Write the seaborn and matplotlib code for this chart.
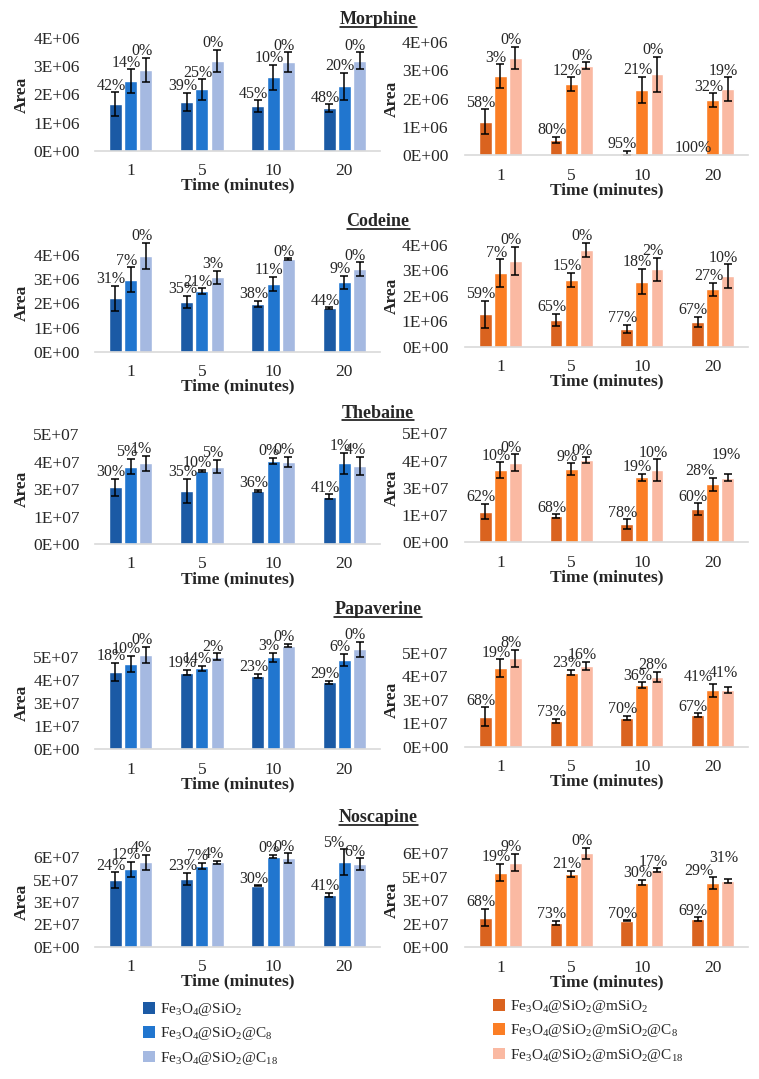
import pandas as pd
import seaborn as sns
import matplotlib.pyplot as plt
from matplotlib.patches import Patch
from matplotlib.lines import Line2D

sns.set_style('white')
plt.rcParams['font.family'] = ['Liberation Serif', 'DejaVu Serif']
plt.rcParams['mathtext.fontset'] = 'custom'
plt.rcParams['mathtext.rm'] = 'Liberation Serif'
plt.rcParams['mathtext.it'] = 'Liberation Serif:italic'
plt.rcParams['mathtext.bf'] = 'Liberation Serif:bold'

# ---------------- data ----------------
times = ['1', '5', '10', '20']
drugs = ['Morphine', 'Codeine', 'Thebaine', 'Papaverine', 'Noscapine']

si_names = [r'Fe$_3$O$_4$@SiO$_2$',
            r'Fe$_3$O$_4$@SiO$_2$@C$_8$',
            r'Fe$_3$O$_4$@SiO$_2$@C$_{18}$']
msi_names = [r'Fe$_3$O$_4$@SiO$_2$@mSiO$_2$',
             r'Fe$_3$O$_4$@SiO$_2$@mSiO$_2$@C$_8$',
             r'Fe$_3$O$_4$@SiO$_2$@mSiO$_2$@C$_{18}$']
blues = ['#1B5AA5', '#2176CF', '#A5B9E1']
oranges = ['#DA631F', '#FB7E25', '#FAB9A2']

# rows = material, columns = time (1, 5, 10, 20 min)
morphine_si = [[1.66e6, 1.74e6, 1.59e6, 1.51e6],
               [2.48e6, 2.18e6, 2.61e6, 2.30e6],
               [2.87e6, 3.19e6, 3.15e6, 3.20e6]]
morphine_si_err = [[0.42e6, 0.33e6, 0.21e6, 0.14e6],
                   [0.42e6, 0.36e6, 0.44e6, 0.48e6],
                   [0.44e6, 0.39e6, 0.35e6, 0.30e6]]
morphine_si_pct = [[42, 39, 45, 48], [14, 25, 10, 20], [0, 0, 0, 0]]

morphine_msi = [[1.18e6, 0.53e6, 0.08e6, 0.0],
                [2.80e6, 2.52e6, 2.31e6, 1.95e6],
                [3.46e6, 3.17e6, 2.86e6, 2.33e6]]
morphine_msi_err = [[0.44e6, 0.12e6, 0.07e6, 0.0],
                    [0.42e6, 0.24e6, 0.47e6, 0.24e6],
                    [0.39e6, 0.12e6, 0.63e6, 0.43e6]]
morphine_msi_pct = [[58, 80, 95, 100], [3, 12, 21, 32], [0, 0, 0, 19]]

codeine_si = [[2.21e6, 2.07e6, 1.97e6, 1.79e6],
              [2.97e6, 2.51e6, 2.80e6, 2.87e6],
              [3.96e6, 3.08e6, 3.83e6, 3.41e6]]
codeine_si_err = [[0.52e6, 0.25e6, 0.14e6, 0.04e6],
                  [0.52e6, 0.11e6, 0.30e6, 0.26e6],
                  [0.55e6, 0.27e6, 0.03e6, 0.29e6]]
codeine_si_pct = [[31, 35, 38, 44], [7, 21, 11, 9], [0, 3, 0, 0]]

codeine_msi = [[1.27e6, 1.05e6, 0.70e6, 0.98e6],
               [2.89e6, 2.62e6, 2.56e6, 2.26e6],
               [3.37e6, 3.80e6, 3.04e6, 2.78e6]]
codeine_msi_err = [[0.54e6, 0.24e6, 0.15e6, 0.20e6],
                   [0.55e6, 0.29e6, 0.50e6, 0.26e6],
                   [0.56e6, 0.29e6, 0.46e6, 0.46e6]]
codeine_msi_pct = [[59, 65, 77, 67], [7, 15, 18, 27], [0, 0, 2, 10]]

thebaine_si = [[25.8e6, 24.2e6, 24.2e6, 21.6e6],
               [35.3e6, 33.4e6, 38.0e6, 36.8e6],
               [36.8e6, 35.3e6, 37.4e6, 35.6e6]]
thebaine_si_err = [[3.8e6, 5.6e6, 0.5e6, 1.0e6],
                   [3.5e6, 0.4e6, 1.4e6, 4.8e6],
                   [3.5e6, 3.0e6, 2.4e6, 4.2e6]]
thebaine_si_pct = [[30, 35, 36, 41], [5, 10, 0, 1], [1, 5, 0, 4]]

thebaine_msi = [[14.1e6, 12.1e6, 8.3e6, 15.1e6],
                [33.2e6, 33.5e6, 29.8e6, 26.6e6],
                [36.5e6, 37.8e6, 33.2e6, 29.7e6]]
thebaine_msi_err = [[3.5e6, 0.8e6, 2.3e6, 2.8e6],
                    [3.5e6, 2.8e6, 1.5e6, 3.1e6],
                    [3.8e6, 1.2e6, 4.9e6, 1.7e6]]
thebaine_msi_pct = [[62, 68, 78, 60], [10, 9, 19, 28], [0, 0, 10, 19]]

papaverine_si = [[41.9e6, 41.4e6, 39.6e6, 36.2e6],
                 [46.0e6, 43.7e6, 49.6e6, 48.2e6],
                 [50.9e6, 50.0e6, 55.9e6, 54.1e6]]
papaverine_si_err = [[4.9e6, 1.4e6, 1.0e6, 0.9e6],
                     [4.5e6, 1.3e6, 2.5e6, 3.2e6],
                     [4.5e6, 1.8e6, 0.9e6, 4.0e6]]
papaverine_si_pct = [[18, 19, 23, 29], [10, 14, 3, 6], [0, 2, 0, 0]]

papaverine_msi = [[16.0e6, 13.7e6, 15.4e6, 16.8e6],
                  [41.7e6, 39.4e6, 32.8e6, 30.1e6],
                  [47.0e6, 43.1e6, 37.2e6, 30.1e6]]
papaverine_msi_err = [[5.0e6, 1.1e6, 1.1e6, 0.9e6],
                      [4.8e6, 1.4e6, 1.4e6, 3.5e6],
                      [4.4e6, 2.1e6, 2.7e6, 1.8e6]]
papaverine_msi_pct = [[68, 73, 70, 67], [19, 23, 36, 41], [8, 16, 28, 41]]

noscapine_si = [[44.7e6, 45.4e6, 40.9e6, 34.7e6],
                [51.9e6, 54.4e6, 60.4e6, 56.6e6],
                [56.6e6, 56.6e6, 59.3e6, 55.5e6]]
noscapine_si_err = [[5.1e6, 4.3e6, 0.4e6, 1.6e6],
                    [5.1e6, 2.0e6, 1.1e6, 8.7e6],
                    [4.9e6, 1.1e6, 3.4e6, 3.8e6]]
noscapine_si_pct = [[24, 23, 30, 41], [12, 7, 0, 5], [4, 4, 0, 6]]

noscapine_msi = [[18.9e6, 15.7e6, 17.0e6, 18.1e6],
                 [47.7e6, 46.8e6, 41.3e6, 40.9e6],
                 [54.0e6, 60.0e6, 49.4e6, 42.3e6]]
noscapine_msi_err = [[5.5e6, 1.3e6, 0.2e6, 1.1e6],
                     [5.5e6, 2.1e6, 1.7e6, 3.8e6],
                     [5.5e6, 3.6e6, 1.1e6, 1.3e6]]
noscapine_msi_pct = [[68, 73, 70, 69], [19, 21, 30, 29], [9, 0, 17, 31]]

# y axis ticks (Excel rounds the labels)
ticks_4e6 = [0, 1e6, 2e6, 3e6, 4e6]
labels_4e6 = ['0E+00', '1E+06', '2E+06', '3E+06', '4E+06']
ticks_5e7 = [0, 1.25e7, 2.5e7, 3.75e7, 5e7]
labels_5e7 = ['0E+00', '1E+07', '3E+07', '4E+07', '5E+07']
ticks_6e7 = [0, 1.5e7, 3e7, 4.5e7, 6e7]
labels_6e7 = ['0E+00', '2E+07', '3E+07', '5E+07', '6E+07']

rows = [
    (morphine_si, morphine_si_err, morphine_si_pct,
     morphine_msi, morphine_msi_err, morphine_msi_pct, ticks_4e6, labels_4e6),
    (codeine_si, codeine_si_err, codeine_si_pct,
     codeine_msi, codeine_msi_err, codeine_msi_pct, ticks_4e6, labels_4e6),
    (thebaine_si, thebaine_si_err, thebaine_si_pct,
     thebaine_msi, thebaine_msi_err, thebaine_msi_pct, ticks_5e7, labels_5e7),
    (papaverine_si, papaverine_si_err, papaverine_si_pct,
     papaverine_msi, papaverine_msi_err, papaverine_msi_pct, ticks_5e7, labels_5e7),
    (noscapine_si, noscapine_si_err, noscapine_si_pct,
     noscapine_msi, noscapine_msi_err, noscapine_msi_pct, ticks_6e7, labels_6e7),
]

# ---------------- layout (pixels) ----------------
W, H = 759, 1079
left_x = (95, 380)
right_x = (465, 748)
# (zero line, top tick) in px from top, for left / right panels
left_y = [(150.7, 38.3), (351.7, 255), (544, 434.3), (749.3, 656.7), (946.7, 857.3)]
right_y = [(155, 42.3), (346.7, 245), (542.3, 433.3), (746.7, 652.7), (947.3, 853.3)]
title_y = [20, 222, 413, 610, 818]

# hand-placed data labels in the original: (row, side, material, time) -> (dx, dy) in pt
label_nudge = {
    (2, 1, 1, 3): (-6, 0), (2, 1, 2, 3): (2, 9),
    (3, 1, 1, 3): (-7, 0), (3, 1, 2, 3): (0, 5),
    (4, 1, 1, 3): (-7, 0), (4, 1, 2, 3): (0, 10),
    (4, 0, 1, 3): (-5, 0),
}

fig = plt.figure(figsize=(W / 100, H / 100), dpi=100)


def draw_panel(ax, r, side, means, errs, pcts, names, colors, ticks, tlabels, ypad):
    df = pd.DataFrame([(t, names[m], means[m][i])
                       for m in range(3) for i, t in enumerate(times)],
                      columns=['time', 'material', 'area'])
    sns.barplot(data=df, x='time', y='area', hue='material', order=times,
                hue_order=names, palette=colors, saturation=1, width=0.64,
                gap=0.15, errorbar=None, legend=False, ax=ax)
    bar_groups = list(ax.containers)[:3]
    for m, cont in enumerate(bar_groups):
        for i, bar in enumerate(cont.patches):
            bar.set_clip_on(False)
            xc = bar.get_x() + bar.get_width() / 2
            y = bar.get_height()
            e = errs[m][i]
            if e > 0:
                ax.errorbar(xc, y, yerr=e, fmt='none', ecolor='black',
                            elinewidth=1.1, capsize=2.6, capthick=1.1,
                            clip_on=False)
            dx, dy = label_nudge.get((r, side, m, i), (0, 0))
            ax.annotate(f'{pcts[m][i]}%', (xc, y + e), xytext=(-3 + dx, -1 + dy),
                        textcoords='offset points', ha='center', va='bottom',
                        fontsize=11.5, annotation_clip=False)
    ax.set_ylim(0, ticks[-1])
    ax.set_yticks(ticks)
    ax.set_yticklabels(tlabels)
    ax.set_xlim(-0.5, 3.5)
    for s in ['top', 'right', 'left']:
        ax.spines[s].set_visible(False)
    ax.spines['bottom'].set_color('#D9D9D9')
    ax.spines['bottom'].set_linewidth(1.2)
    ax.tick_params(axis='x', length=0, pad=9, labelsize=12.5)
    ax.tick_params(axis='y', length=0, pad=ypad, labelsize=12.5)
    ax.set_xlabel('Time (minutes)', fontsize=12.5, fontweight='bold', labelpad=-1)
    ax.set_ylabel('Area', fontsize=12.5, fontweight='bold')
    ax.yaxis.set_label_coords(-0.23, 0.5)


for r, row in enumerate(rows):
    si, si_err, si_pct, msi, msi_err, msi_pct, ticks, tlabels = row
    z, t = left_y[r]
    axl = fig.add_axes([left_x[0] / W, 1 - z / H,
                        (left_x[1] - left_x[0]) / W, (z - t) / H])
    draw_panel(axl, r, 0, si, si_err, si_pct, si_names, blues, ticks, tlabels, 11)
    z, t = right_y[r]
    axr = fig.add_axes([right_x[0] / W, 1 - z / H,
                        (right_x[1] - right_x[0]) / W, (z - t) / H])
    draw_panel(axr, r, 1, msi, msi_err, msi_pct, msi_names, oranges, ticks, tlabels, 12)

# panel titles, underlined
titles = []
for r, drug in enumerate(drugs):
    titles.append(fig.text(378 / W, 1 - title_y[r] / H, drug, ha='center',
                           va='center', fontsize=13, fontweight='bold'))

# legends
hl = [Patch(facecolor=c, edgecolor='none') for c in blues]
hr = [Patch(facecolor=c, edgecolor='none') for c in oranges]
fig.legend(hl, si_names, loc='upper left', bbox_to_anchor=(143 / W, 1 - 1001 / H),
           frameon=False, fontsize=11, handlelength=0.8, handleheight=0.8,
           handletextpad=0.3, labelspacing=0.48, borderpad=0, borderaxespad=0)
fig.legend(hr, msi_names, loc='upper left', bbox_to_anchor=(493 / W, 1 - 998 / H),
           frameon=False, fontsize=11, handlelength=0.8, handleheight=0.8,
           handletextpad=0.3, labelspacing=0.48, borderpad=0, borderaxespad=0)

fig.canvas.draw()
renderer = fig.canvas.get_renderer()
for t in titles:
    bb = t.get_window_extent(renderer).transformed(fig.transFigure.inverted())
    yl = bb.y0 + 2 / H
    fig.add_artist(Line2D([bb.x0, bb.x1], [yl, yl], color='black', lw=1.1,
                          transform=fig.transFigure))

fig.savefig('out.png', dpi=100)
